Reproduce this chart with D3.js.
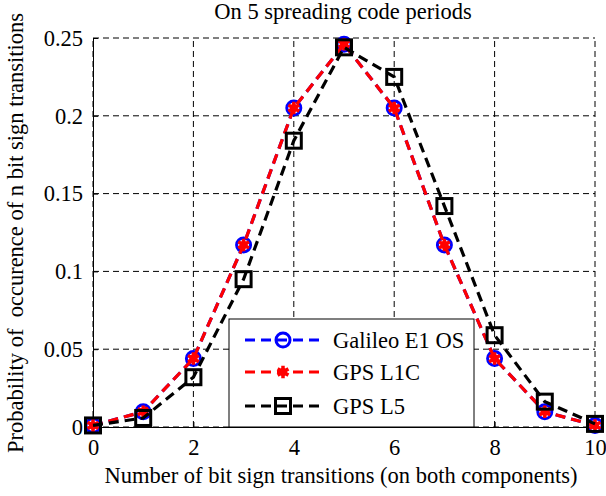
<!DOCTYPE html>
<html><head><meta charset="utf-8">
<script src="https://cdn.jsdelivr.net/npm/d3@7"></script>
<style>
body{margin:0;background:#fff;}
</style></head>
<body><svg id="c" width="606" height="496"></svg>
<script>
const xValues = [0,1,2,3,4,5,6,7,8,9,10];
const galileoE1OS = [0.001,0.0098,0.044,0.117,0.205,0.246,0.205,0.117,0.044,0.0098,0.001];
const gpsL1C = [0.001,0.0098,0.044,0.117,0.205,0.246,0.205,0.117,0.044,0.0098,0.001];
const gpsL5 = [0.001,0.0058,0.032,0.095,0.184,0.244,0.225,0.142,0.059,0.0163,0.002];
const xTicks = [0,2,4,6,8,10];
const yTicks = [0,0.05,0.1,0.15,0.2,0.25];
const yTickLabels = ["0","0.05","0.1","0.15","0.2","0.25"];
const seriesNames = ["Galileo E1 OS","GPS L1C","GPS L5"];
const titleText = "On 5 spreading code periods";
const xLabel = "Number of bit sign transitions (on both components)";
const yLabel = "Probability of  occurence of n bit sign transitions";

const FONT = "'Liberation Serif', 'Times New Roman', serif";
const svg = d3.select("#c");
const L=93,R=595,T=38,B=427;
const x = d3.scaleLinear().domain([0,10]).range([L,R]);
const y = d3.scaleLinear().domain([0,0.25]).range([B,T]);
const fs = 22.5;

// grid
const g = svg.append("g");
g.selectAll(".gx").data(xTicks).enter().append("line")
 .attr("x1",d=>x(d)).attr("x2",d=>x(d)).attr("y1",B).attr("y2",T)
 .attr("stroke","#000").attr("stroke-width",1).attr("stroke-dasharray","6,4");
g.selectAll(".gy").data(yTicks).enter().append("line")
 .attr("y1",d=>y(d)).attr("y2",d=>y(d)).attr("x1",L).attr("x2",R)
 .attr("stroke","#000").attr("stroke-width",1).attr("stroke-dasharray","6,4");

// axes
const xAxis = d3.axisBottom(x).tickValues(xTicks).tickSizeInner(-5).tickSizeOuter(0).tickPadding(14).tickFormat(d3.format("d"));
const yAxis = d3.axisLeft(y).tickValues(yTicks).tickSizeInner(-5).tickSizeOuter(0).tickPadding(14).tickFormat((d,i)=>yTickLabels[i]);
const gx = svg.append("g").attr("transform",`translate(0,${B})`).call(xAxis);
const gy = svg.append("g").attr("transform",`translate(${L},0)`).call(yAxis);
[gx,gy].forEach(a=>{
  a.attr("font-family",FONT).attr("font-size",fs);
  a.selectAll("text").style("font-size",fs+"px").style("font-family",FONT).attr("fill","#000");
  a.select(".domain").attr("stroke","#000").attr("stroke-width",1);
  a.selectAll(".tick line").attr("stroke","#000");
});
gy.selectAll("text").attr("dx","4");
gx.selectAll("text").attr("dy","0.6em");

// series
const line = d3.line().x((d,i)=>x(xValues[i])).y(d=>y(d));
const dash = "10,6";
function drawSeries(vals,color,kind){
  svg.append("path").datum(vals).attr("d",line).attr("fill","none")
   .attr("stroke",color).attr("stroke-width",3.2).attr("stroke-dasharray",dash);
  vals.forEach((v,i)=>marker(svg,x(xValues[i]),y(v),color,kind));
}
function marker(p,cx,cy,color,kind){
  if(kind==="circle"){
    p.append("circle").attr("cx",cx).attr("cy",cy).attr("r",7).attr("fill","none").attr("stroke",color).attr("stroke-width",3);
  } else if(kind==="star"){
    p.append("path").attr("d",d3.symbol().type(d3.symbolAsterisk).size(110)()).attr("transform",`translate(${cx},${cy})`)
      .attr("fill","none").attr("stroke",color).attr("stroke-width",3.5);
    p.append("circle").attr("cx",cx).attr("cy",cy).attr("r",4).attr("fill",color);
  } else {
    p.append("rect").attr("x",cx-7.5).attr("y",cy-7.5).attr("width",15).attr("height",15).attr("fill","none").attr("stroke",color).attr("stroke-width",3);
  }
}
drawSeries(galileoE1OS,"#0000ff","circle");
drawSeries(gpsL1C,"#ff0000","star");
drawSeries(gpsL5,"#000000","square");

// legend
const lg = svg.append("g");
lg.append("rect").attr("x",229).attr("y",319).attr("width",245).attr("height",108).attr("fill","#fff").attr("stroke","#000").attr("stroke-width",1);
const rows=[340,372,406], cols=["#0000ff","#ff0000","#000000"], kinds=["circle","star","square"];
seriesNames.forEach((n,i)=>{
  lg.append("line").attr("x1",245).attr("x2",321).attr("y1",rows[i]).attr("y2",rows[i]).attr("stroke",cols[i]).attr("stroke-width",3.2).attr("stroke-dasharray",dash);
  marker(lg,283,rows[i],cols[i],kinds[i]);
  lg.append("text").attr("x",333).attr("y",rows[i]).attr("dy","0.35em").style("font-family",FONT).style("font-size",fs+"px").text(n);
});

// titles
svg.append("text").attr("x",343).attr("y",19).attr("text-anchor","middle").style("font-family",FONT).style("font-size",fs+"px").text(titleText);
svg.append("text").attr("x",341).attr("y",483).attr("text-anchor","middle").style("font-family",FONT).style("font-size",fs+"px").text(xLabel);
svg.append("text").attr("transform","translate(23,233) rotate(-90)").attr("text-anchor","middle").style("font-family",FONT).style("font-size",fs+"px").style("white-space","pre").text(yLabel);
</script></body></html>
